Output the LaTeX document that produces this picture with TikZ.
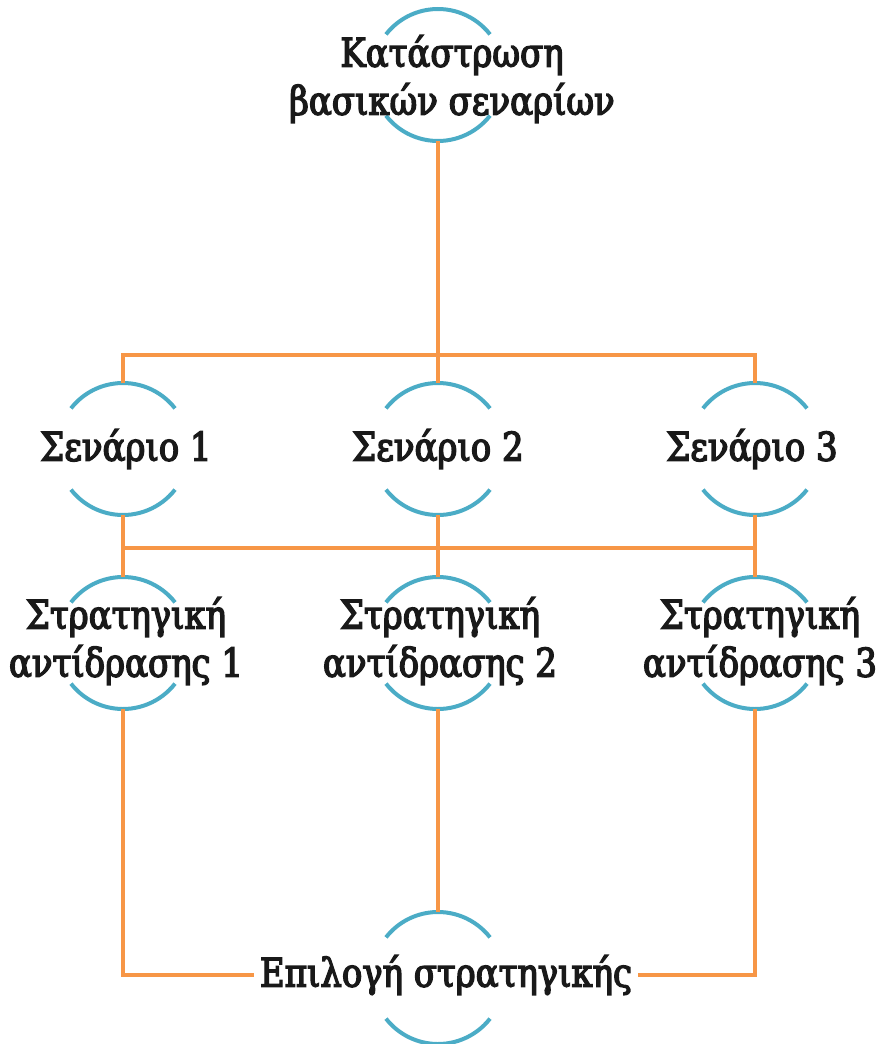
\documentclass[tikz,border=0pt]{standalone}
\usepackage{fontspec}
\setmainfont{DejaVu Serif}[FakeStretch=0.86, FakeBold=3.5]
\usetikzlibrary{calc}
\definecolor{ringblue}{HTML}{4BACC6}
\definecolor{linkorange}{HTML}{F79646}
\tikzset{
  lbl/.style={align=center, inner sep=6pt, text=black!90, font=\fontsize{39.5}{48}\selectfont},
  ring/.style={draw=ringblue, line width=4pt},
  link/.style={draw=linkorange, line width=4pt},
}
% half-ring decoration: upper and lower arcs around a centre, radius 66
\newcommand\halfrings[1]{%
  \draw[ring] ($(#1)+(38:66)$) arc (38:142:66);
  \draw[ring] ($(#1)+(-38:66)$) arc (-38:-142:66);
  \coordinate (#1T) at ($(#1)+(0,-66)$);
  \coordinate (#1B) at ($(#1)+(0,66)$);
}
\begin{document}
\begin{tikzpicture}[x=1pt, y=-1pt]
  \useasboundingbox (0,0) rectangle (876,1044);

  % ring centres
  \coordinate (c0) at (438,75);
  \coordinate (s1) at (123,449);
  \coordinate (s2) at (438,449);
  \coordinate (s3) at (755,449);
  \coordinate (a1) at (123,643);
  \coordinate (a2) at (438,643);
  \coordinate (a3) at (755,643);
  \coordinate (f0) at (438,978);

  \halfrings{c0}
  \halfrings{s1}
  \halfrings{s2}
  \halfrings{s3}
  \halfrings{a1}
  \halfrings{a2}
  \halfrings{a3}
  \halfrings{f0}

  % labels
  \node[lbl] (top) at (452,79) {Κατάστρωση\\βασικών σεναρίων};
  \node[lbl] (n1) at (126,449) {Σενάριο 1};
  \node[lbl] (n2) at (438,449) {Σενάριο 2};
  \node[lbl] (n3) at (752,449) {Σενάριο 3};
  \node[lbl] (m1) at (126,641) {Στρατηγική\\αντίδρασης 1};
  \node[lbl] (m2) at (440,641) {Στρατηγική\\αντίδρασης 2};
  \node[lbl] (m3) at (760,641) {Στρατηγική\\αντίδρασης 3};
  \node[lbl] (fin) at (446,975) {Επιλογή στρατηγικής};

  % bus bars
  \coordinate (bar1) at (438,355);
  \coordinate (bar2) at (438,548);

  % connectors
  \draw[link] (c0B) -- (s2T);
  \draw[link] (s1T) |- (bar1) -| (s3T);
  \draw[link] (s1B) |- (bar2) -| (s3B);
  \draw[link] (s1B) -- (a1T);
  \draw[link] (s2B) -- (a2T);
  \draw[link] (s3B) -- (a3T);
  \draw[link] (a1B) |- (fin.west);
  \draw[link] (a3B) |- (fin.east);
  \draw[link] (a2B) -- (f0T);
\end{tikzpicture}
\end{document}
